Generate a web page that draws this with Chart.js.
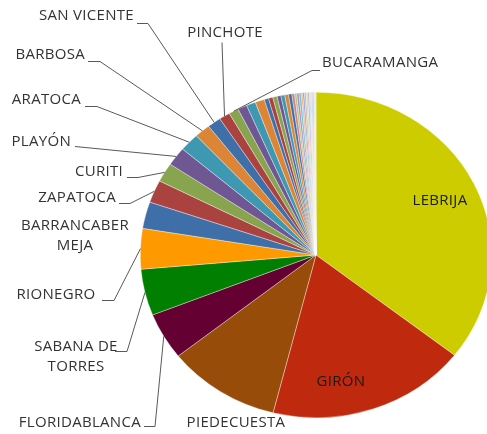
<!DOCTYPE html>
<html>
<head>
<meta charset="utf-8">
<style>
  html, body { margin: 0; padding: 0; background: #fff; }
  #wrap { width: 487px; height: 434px; position: relative; }
</style>
<script src="https://cdn.jsdelivr.net/npm/chart.js@4.4.1/dist/chart.umd.min.js"></script>
</head>
<body>
<div id="wrap"><canvas id="torta" width="487" height="434"></canvas></div>
<script>
// ==============================
// DATOS
// ==============================
const municipios = [
  "LEBRIJA", "GIRÓN", "PIEDECUESTA", "FLORIDABLANCA", "SABANA DE TORRES",
  "RIONEGRO", "BARRANCABERMEJA", "ZAPATOCA", "CURITI", "PLAYÓN",
  "ARATOCA", "BARBOSA", "SAN VICENTE", "PINCHOTE", "BUCARAMANGA",
  "LOS SANTOS", "SAN GIL", "SOCORRO", "MÁLAGA", "VÉLEZ",
  "CIMITARRA", "PUERTO WILCHES", "MATANZA", "TONA", "CHARTA",
  "SURATÁ", "CALIFORNIA", "VETAS", "MOGOTES", "ONZAGA",
  "CHARALÁ", "OIBA", "BARICHARA", "VILLANUEVA", "BETULIA",
  "EL CARMEN", "PUERTO PARRA", "LANDÁZURI", "SIMACOTA", "GALÁN",
  "HATO", "GUAPOTÁ"
];

const valores = [
  710, 367, 208, 93, 92,
  80, 53, 45, 38, 37,
  36, 29, 25, 20, 18,
  17, 17, 17, 8, 8,
  8, 7, 7, 7, 6,
  5, 4, 4, 4, 3,
  3, 3, 3, 3, 2,
  2, 2, 2, 1, 1,
  1, 1
];

// nombres que se muestran con su línea guía
const rotulos = [
  "LEBRIJA", "GIRÓN", "PIEDECUESTA", "FLORIDABLANCA", "SABANA DE TORRES",
  "RIONEGRO", "BARRANCABERMEJA", "ZAPATOCA", "CURITI", "PLAYÓN",
  "ARATOCA", "BARBOSA", "SAN VICENTE", "PINCHOTE", "BUCARAMANGA"
];

// ==============================
// ESTILO
// ==============================
const colFijos = ["#CCCC00", "#BF290D", "#984C0A", "#640032", "#007F00", "#FF9900"];
const paleta = ["#3F6FA8", "#AA4340", "#88A44E", "#6E5792", "#3F98B2", "#DC8537"];

function aclarar(hex, t) {
  const n = parseInt(hex.slice(1), 16);
  const r = (n >> 16) & 255, g = (n >> 8) & 255, b = n & 255;
  const m = c => Math.round(c + (255 - c) * t);
  return `rgb(${m(r)},${m(g)},${m(b)})`;
}

const colores = municipios.map((_, i) => {
  if (i < colFijos.length) return colFijos[i];
  const base = paleta[(i - 6) % 6];
  const t = i >= 31 ? 0.55 : i >= 25 ? 0.35 : 0;
  return t ? aclarar(base, t) : base;
});

const SX = 176 / 163; // la torta original está estirada a lo ancho
const FUENTE = "15px 'Open Sans'";
const GRIS = "#333333";
const LINEA = "#595959";

// posición de cada rótulo (texto) en el lienzo
const posRotulos = {
  "LEBRIJA":          { lineas: ["LEBRIJA"], x: 440, y: 201, align: "center", color: "#1a1a1a" },
  "GIRÓN":            { lineas: ["GIRÓN"], x: 341, y: 382, align: "center", color: "#1a1a1a" },
  "PIEDECUESTA":      { lineas: ["PIEDECUESTA"], x: 236, y: 423, align: "center" },
  "FLORIDABLANCA":    { lineas: ["FLORIDABLANCA"], x: 141, y: 423, align: "right", tick: [144, 155, 426] },
  "SABANA DE TORRES": { lineas: ["SABANA DE", "TORRES"], x: 76, y: 347, align: "center", tick: [115, 127, 351] },
  "RIONEGRO":         { lineas: ["RIONEGRO"], x: 56, y: 295, align: "center", tick: [102, 114, 300] },
  "BARRANCABERMEJA":  { lineas: ["BARRANCABER", "MEJA"], x: 75, y: 226, align: "center" },
  "ZAPATOCA":         { lineas: ["ZAPATOCA"], x: 116, y: 198, align: "right", tick: [119, 130, 203] },
  "CURITI":           { lineas: ["CURITI"], x: 123, y: 172, align: "right", tick: [127, 138, 177] },
  "PLAYÓN":           { lineas: ["PLAYÓN"], x: 71, y: 142, align: "right", tick: [75, 75, 146] },
  "ARATOCA":          { lineas: ["ARATOCA"], x: 81, y: 100, align: "right", tick: [85, 97, 106] },
  "BARBOSA":          { lineas: ["BARBOSA"], x: 85, y: 55, align: "right", tick: [88, 100, 61] },
  "SAN VICENTE":      { lineas: ["SAN VICENTE"], x: 134, y: 16, align: "right", tick: [137, 148, 23] },
  "PINCHOTE":         { lineas: ["PINCHOTE"], x: 225, y: 33, align: "center", tick: [222, 222, 42] },
  "BUCARAMANGA":      { lineas: ["BUCARAMANGA"], x: 322, y: 63, align: "left", tick: [320, 312, 70] }
};

// ==============================
// PLUGINS
// ==============================
const elipse = {
  id: "elipse",
  beforeDatasetsDraw(chart) {
    const a = chart.getDatasetMeta(0).data[0];
    const ctx = chart.ctx;
    ctx.save();
    ctx.translate(a.x, a.y);
    ctx.scale(SX, 1);
    ctx.translate(-a.x, -a.y);
  },
  afterDatasetsDraw(chart) {
    chart.ctx.restore();
  }
};

function borde(chart, i) {
  const a = chart.getDatasetMeta(0).data[i];
  const m = (a.startAngle + a.endAngle) / 2;
  return {
    x: a.x + Math.cos(m) * a.outerRadius * SX,
    y: a.y + Math.sin(m) * a.outerRadius
  };
}

const etiquetas = {
  id: "etiquetas",
  afterDraw(chart) {
    const ctx = chart.ctx;
    ctx.save();
    ctx.font = FUENTE;
    ctx.letterSpacing = "0.3px";
    ctx.textBaseline = "middle";

    rotulos.forEach(nombre => {
      const i = municipios.indexOf(nombre);
      const r = posRotulos[nombre];
      if (i < 0 || !r) return;

      if (r.tick) {
        const p = borde(chart, i);
        const [x1, x2, y] = r.tick;
        ctx.strokeStyle = LINEA;
        ctx.lineWidth = 1;
        ctx.beginPath();
        ctx.moveTo(x1, y + 0.5);
        ctx.lineTo(x2, y + 0.5);
        ctx.lineTo(p.x, p.y);
        ctx.stroke();
      }

      ctx.fillStyle = r.color || GRIS;
      ctx.textAlign = r.align;
      r.lineas.forEach((t, k) => ctx.fillText(t, r.x, r.y + k * 20));
    });

    ctx.restore();
  }
};

// ==============================
// GRÁFICO
// ==============================
const canvas = document.getElementById("torta");
new Chart(canvas.getContext("2d"), {
  type: "pie",
  data: {
    labels: municipios,
    datasets: [{
      data: valores,
      backgroundColor: colores,
      borderColor: "rgba(255,255,255,0.7)",
      borderWidth: 0.5,
      clip: false
    }]
  },
  options: {
    responsive: false,
    animation: false,
    events: [],
    layout: { padding: { left: 153, right: 8, top: 92, bottom: 16 } },
    plugins: {
      legend: { display: false },
      tooltip: { enabled: false }
    }
  },
  plugins: [elipse, etiquetas]
});
</script>
</body>
</html>
